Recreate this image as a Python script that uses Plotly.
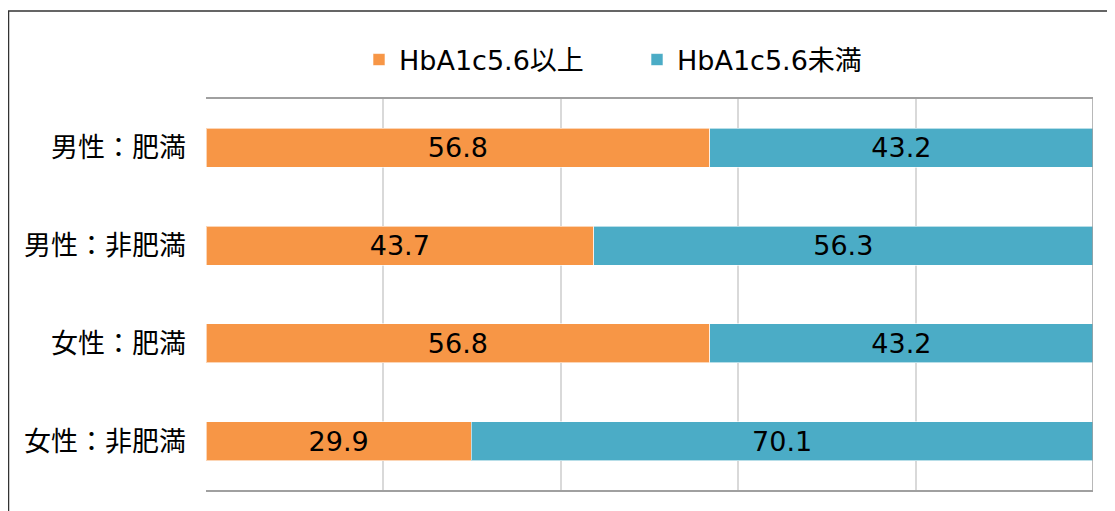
import plotly.graph_objects as go

categories = ["男性：肥満", "男性：非肥満", "女性：肥満", "女性：非肥満"]
above_vals = [56.8, 43.7, 56.8, 29.9]
below_vals = [43.2, 56.3, 43.2, 70.1]
series_names = ["HbA1c5.6以上", "HbA1c5.6未満"]
colors = ["#F79646", "#4BACC6"]

OFF = 8  # page body margin
W, H = 1115 - OFF, 511 - OFF
L, R, T, B = 206 - OFF, 22, 99 - OFF, 21
pw, ph = W - L - R, H - T - B

def px_x(px):
    return (px - OFF - L) / pw

def px_y(py):
    return (H - B - (py - OFF)) / ph

font_family = "DejaVu Sans, Noto Sans CJK JP, sans-serif"

fig = go.Figure()
for name, vals, col in zip(series_names, [above_vals, below_vals], colors):
    fig.add_trace(go.Bar(
        y=categories, x=vals, name=name, orientation="h",
        marker=dict(color=col, line=dict(color="rgba(255,255,255,0.6)", width=1)),
        text=[f"{v:.1f}" for v in vals], textposition="inside",
        insidetextanchor="middle", textangle=0,
        textfont=dict(size=27, color="#000000", family=font_family),
    ))

fig.update_layout(
    width=W, height=H,
    margin=dict(l=L, r=R, t=T, b=B),
    barmode="stack", bargap=0.6,
    plot_bgcolor="white", paper_bgcolor="white",
    font=dict(family=font_family, color="#000000"),
    showlegend=True,
    legend=dict(orientation="h", x=px_x(359), xanchor="left", y=px_y(60), yanchor="middle",
                font=dict(size=27, color="#000000"), entrywidth=233,
                traceorder="normal"),
    xaxis=dict(range=[0, 100], dtick=20, showticklabels=False, showgrid=True,
               gridcolor="#d9d9d9", gridwidth=1.5, zeroline=False,
               showline=True, mirror=True, linecolor="#a0a0a0", linewidth=1.5),
    yaxis=dict(categoryorder="array", categoryarray=categories, autorange="reversed",
               tickfont=dict(size=27, color="#000000"), ticklabelstandoff=19,
               showline=False, showgrid=False),
    shapes=[
        dict(type="line", xref="x", yref="paper", x0=100, x1=100, y0=0, y1=1,
             line=dict(color="#a0a0a0", width=1.5)),
        dict(type="rect", xref="paper", yref="paper",
             x0=px_x(8.5), x1=px_x(1140), y0=px_y(540), y1=px_y(11),
             line=dict(color="#333333", width=1.5), fillcolor="rgba(0,0,0,0)",
             layer="above"),
    ],
)

fig.write_html("out.html")
